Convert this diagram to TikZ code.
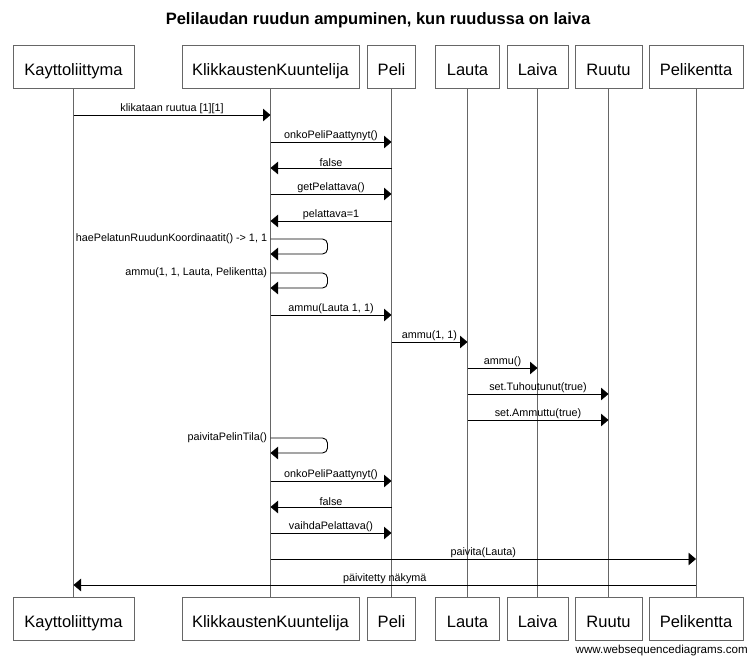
\documentclass[tikz,border=0pt]{standalone}
\usepackage{fontspec}
\setmainfont{Liberation Sans}
\usetikzlibrary{arrows.meta}

\tikzset{
  actor/.style={draw=black!60,line width=1pt,fill=white,minimum height=43pt,inner sep=0pt,text height=17pt,text depth=0pt,font=\fontsize{16.5}{19}\selectfont},
  life/.style={draw=black!60,line width=0.9pt},
  msg/.style={draw=black,line width=0.9pt,-{Triangle[length=7.5pt,width=12.5pt]}},
  lbl/.style={above,inner sep=0.6pt,font=\fontsize{10.8}{12}\selectfont},
  selflbl/.style={anchor=east,inner sep=3pt,font=\fontsize{10.8}{12}\selectfont}
}

\begin{document}
\begin{tikzpicture}[x=1pt,y=-1pt]
  \useasboundingbox (0,0) rectangle (756,662);
  \node[font=\bfseries\fontsize{16.5}{19}\selectfont] (title) at (378,20.5) {Pelilaudan ruudun ampuminen, kun ruudussa on laiva};

  % top boxes
  \node[actor,minimum width=121pt] (kayttoliittyma) at (73.5,67) {Kayttoliittyma};
  \node[actor,minimum width=177pt] (kuuntelija) at (270.5,67) {KlikkaustenKuuntelija};
  \node[actor,minimum width=48pt] (peli) at (391.5,67) {Peli};
  \node[actor,minimum width=64pt] (lauta) at (467.5,67) {Lauta};
  \node[actor,minimum width=61pt] (laiva) at (537.5,67) {Laiva};
  \node[actor,minimum width=67pt] (ruutu) at (608.5,67) {Ruutu};
  \node[actor,minimum width=94pt] (pelikentta) at (696,67) {Pelikentta};

  % bottom boxes
  \node[actor,minimum width=121pt] (kayttoliittyma-b) at (73.5,618.5) {Kayttoliittyma};
  \node[actor,minimum width=177pt] (kuuntelija-b) at (270.5,618.5) {KlikkaustenKuuntelija};
  \node[actor,minimum width=48pt] (peli-b) at (391.5,618.5) {Peli};
  \node[actor,minimum width=64pt] (lauta-b) at (467.5,618.5) {Lauta};
  \node[actor,minimum width=61pt] (laiva-b) at (537.5,618.5) {Laiva};
  \node[actor,minimum width=67pt] (ruutu-b) at (608.5,618.5) {Ruutu};
  \node[actor,minimum width=94pt] (pelikentta-b) at (696,618.5) {Pelikentta};

  % lifelines
  \draw[life] (kayttoliittyma) -- (kayttoliittyma-b);
  \draw[life] (kuuntelija) -- (kuuntelija-b);
  \draw[life] (peli) -- (peli-b);
  \draw[life] (lauta) -- (lauta-b);
  \draw[life] (laiva) -- (laiva-b);
  \draw[life] (ruutu) -- (ruutu-b);
  \draw[life] (pelikentta) -- (pelikentta-b);

  % messages
  \draw[msg] (kayttoliittyma |- 0,115) -- node[lbl] {klikataan ruutua [1][1]} (kuuntelija |- 0,115);
  \draw[msg] (kuuntelija |- 0,142) -- node[lbl] {onkoPeliPaattynyt()} (peli |- 0,142);
  \draw[msg] (peli |- 0,168) -- node[lbl] {false} (kuuntelija |- 0,168);
  \draw[msg] (kuuntelija |- 0,194) -- node[lbl] {getPelattava()} (peli |- 0,194);
  \draw[msg] (peli |- 0,221) -- node[lbl] {pelattava=1} (kuuntelija |- 0,221);
  \draw[msg,rounded corners=5pt] (kuuntelija |- 0,239) node[selflbl] {haePelatunRuudunKoordinaatit() -> 1, 1} -- ++(57,0) -- ++(0,15) -- (kuuntelija |- 0,254);
  \draw[msg,rounded corners=5pt] (kuuntelija |- 0,273) node[selflbl] {ammu(1, 1, Lauta, Pelikentta)} -- ++(57,0) -- ++(0,15) -- (kuuntelija |- 0,288);
  \draw[msg] (kuuntelija |- 0,315) -- node[lbl] {ammu(Lauta 1, 1)} (peli |- 0,315);
  \draw[msg] (peli |- 0,342) -- node[lbl] {ammu(1, 1)} (lauta |- 0,342);
  \draw[msg] (lauta |- 0,368) -- node[lbl] {ammu()} (laiva |- 0,368);
  \draw[msg] (lauta |- 0,394) -- node[lbl] {set.Tuhoutunut(true)} (ruutu |- 0,394);
  \draw[msg] (lauta |- 0,420) -- node[lbl] {set.Ammuttu(true)} (ruutu |- 0,420);
  \draw[msg,rounded corners=5pt] (kuuntelija |- 0,438) node[selflbl] {paivitaPelinTila()} -- ++(57,0) -- ++(0,15) -- (kuuntelija |- 0,453);
  \draw[msg] (kuuntelija |- 0,481) -- node[lbl] {onkoPeliPaattynyt()} (peli |- 0,481);
  \draw[msg] (peli |- 0,507) -- node[lbl] {false} (kuuntelija |- 0,507);
  \draw[msg] (kuuntelija |- 0,533) -- node[lbl] {vaihdaPelattava()} (peli |- 0,533);
  \draw[msg] (kuuntelija |- 0,559) -- node[lbl] {paivita(Lauta)} (pelikentta |- 0,559);
  \draw[msg] (pelikentta |- 0,585) -- node[lbl] {päivitetty näkymä} (kayttoliittyma |- 0,585);

  \node[anchor=east,inner sep=0pt,font=\fontsize{11.6}{13}\selectfont] (watermark) at (748,650) {www.websequencediagrams.com};
\end{tikzpicture}
\end{document}
